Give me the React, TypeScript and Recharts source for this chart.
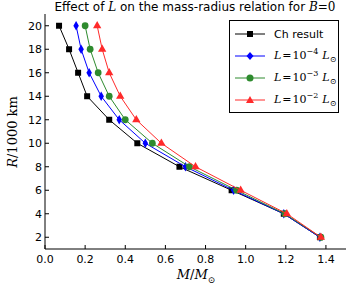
import React from "react"
import { ScatterChart, Scatter, XAxis, YAxis, Symbols } from "recharts"

// radius in units of 1000 km (y axis), mass in solar masses (x axis)
const radii = [20, 18, 16, 14, 12, 10, 8, 6, 4, 2]
const chMass = [0.07, 0.12, 0.165, 0.21, 0.32, 0.46, 0.67, 0.93, 1.19, 1.37]
const l4Mass = [0.155, 0.18, 0.22, 0.28, 0.37, 0.5, 0.7, 0.94, 1.19, 1.37]
const l3Mass = [0.2, 0.225, 0.265, 0.32, 0.4, 0.535, 0.72, 0.955, 1.195, 1.375]
const l2Mass = [0.26, 0.285, 0.32, 0.375, 0.455, 0.58, 0.75, 0.975, 1.205, 1.375]

const xTicks = [0, 0.2, 0.4, 0.6, 0.8, 1.0, 1.2, 1.4]
const yTicks = [2, 4, 6, 8, 10, 12, 14, 16, 18, 20]

const series = [
  { name: "ch", masses: chMass, color: "#000000", shape: "square", size: 36 },
  { name: "l4", masses: l4Mass, color: "#0000ff", shape: "diamond", size: 26 },
  { name: "l3", masses: l3Mass, color: "#2e8b2e", shape: "circle", size: 36 },
  { name: "l2", masses: l2Mass, color: "#ff2a2a", shape: "triangle", size: 30 },
]

const toPoints = (masses: number[]) => masses.map((m, i) => ({ m, r: radii[i] }))

const serif = "'DejaVu Serif', serif"
const sans = "'DejaVu Sans', sans-serif"

function Marker({ shape, color }: { shape: string; color: string }) {
  let mark: React.ReactNode = null
  if (shape === "square") mark = <rect x={12} y={2} width={6} height={6} fill={color} />
  if (shape === "diamond") mark = <polygon points="15,1 18.5,5 15,9 11.5,5" fill={color} />
  if (shape === "circle") mark = <circle cx={15} cy={5} r={3.5} fill={color} />
  if (shape === "triangle") mark = <polygon points="15,1 19,8 11,8" fill={color} />
  return (
    <svg width={30} height={10} style={{ display: "block" }}>
      <line x1={0} y1={5} x2={30} y2={5} stroke={color} strokeWidth={1} />
      {mark}
    </svg>
  )
}

function LumLabel({ exp }: { exp: string }) {
  return (
    <span style={{ fontFamily: serif }}>
      <i>L</i>
      <span style={{ margin: "0 1px" }}>=</span>10
      <sup style={{ fontSize: 8 }}>{exp}</sup>
      <span style={{ marginLeft: 4 }}>
        <i>L</i>
        <sub style={{ fontSize: 8 }}>⊙</sub>
      </span>
    </span>
  )
}

function LegendBox() {
  const rows = [
    { s: series[0], label: <span style={{ fontFamily: sans }}>Ch result</span> },
    { s: series[1], label: <LumLabel exp="−4" /> },
    { s: series[2], label: <LumLabel exp="−3" /> },
    { s: series[3], label: <LumLabel exp="−2" /> },
  ]
  return (
    <div
      style={{
        position: "absolute",
        left: 229,
        top: 20,
        border: "1px solid #000",
        background: "#fff",
        width: 110,
        height: 93,
        boxSizing: "border-box",
        padding: "2px 0 0 5px",
        fontSize: 11,
        lineHeight: "13px",
      }}
    >
      {rows.map((r) => (
        <div key={r.s.name} style={{ display: "flex", alignItems: "center", height: 22 }}>
          <Marker shape={r.s.shape} color={r.s.color} />
          <div style={{ marginLeft: 9 }}>{r.label}</div>
        </div>
      ))}
    </div>
  )
}

const XTick = (p: any) => (
  <text x={p.x} y={p.y} dy={10} textAnchor="middle" fontSize={11} fontFamily={sans} fill="#000">
    {Number(p.payload.value).toFixed(1)}
  </text>
)

export default function App() {
  const tickStyle = { fontSize: 11, fill: "#000", fontFamily: sans }
  return (
    <div style={{ position: "absolute", left: 0, top: 0, width: 360, height: 289, background: "#fff" }}>
      <ScatterChart width={360} height={289} margin={{ top: 14, right: 14, bottom: 10, left: 15 }}>
        <XAxis
          xAxisId={0}
          dataKey="m"
          type="number"
          domain={[0, 1.5]}
          ticks={xTicks}
          interval={0}
          tick={<XTick />}
          tickSize={-4}
          tickMargin={8}
          stroke="#000"
          height={30}
        />
        <XAxis
          xAxisId="top"
          orientation="top"
          type="number"
          domain={[0, 1.5]}
          ticks={xTicks}
          interval={0}
          tick={false}
          tickSize={-4}
          stroke="#000"
          height={0}
        />
        <YAxis
          yAxisId={0}
          dataKey="r"
          type="number"
          domain={[1, 21]}
          ticks={yTicks}
          interval={0}
          tick={tickStyle}
          tickSize={-4}
          tickMargin={7}
          stroke="#000"
          width={30}
        />
        <YAxis
          yAxisId="right"
          orientation="right"
          type="number"
          domain={[1, 21]}
          ticks={yTicks}
          interval={0}
          tick={false}
          tickSize={-4}
          stroke="#000"
          width={0}
        />
        {series.map((s) => (
          <Scatter
            key={s.name}
            name={s.name}
            data={toPoints(s.masses)}
            fill={s.color}
            line={{ stroke: s.color, strokeWidth: 1 }}
            shape={(p: any) => (
              <Symbols cx={p.cx} cy={p.cy} type={s.shape as any} size={s.size} fill={s.color} />
            )}
            isAnimationActive={false}
          />
        ))}
      </ScatterChart>
      <LegendBox />
      <div
        style={{
          position: "absolute",
          top: 0,
          left: 0,
          width: 390,
          textAlign: "center",
          fontFamily: sans,
          fontSize: 12,
          lineHeight: "14px",
        }}
      >
        Effect of <i style={{ fontFamily: serif }}>L</i> on the mass-radius relation for{" "}
        <i style={{ fontFamily: serif }}>B</i>
        <span style={{ fontFamily: serif }}>=0</span>
      </div>
      <div
        style={{
          position: "absolute",
          top: 267,
          left: 0,
          width: 392,
          textAlign: "center",
          fontFamily: serif,
          fontSize: 13,
        }}
      >
        <i>M</i>/<i>M</i>
        <sub style={{ fontSize: 9 }}>⊙</sub>
      </div>
      <div
        style={{
          position: "absolute",
          left: 12,
          top: 132,
          transform: "translate(-50%, -50%) rotate(-90deg)",
          whiteSpace: "nowrap",
          fontFamily: serif,
          fontSize: 13,
        }}
      >
        <i>R</i>/1000 km
      </div>
    </div>
  )
}
